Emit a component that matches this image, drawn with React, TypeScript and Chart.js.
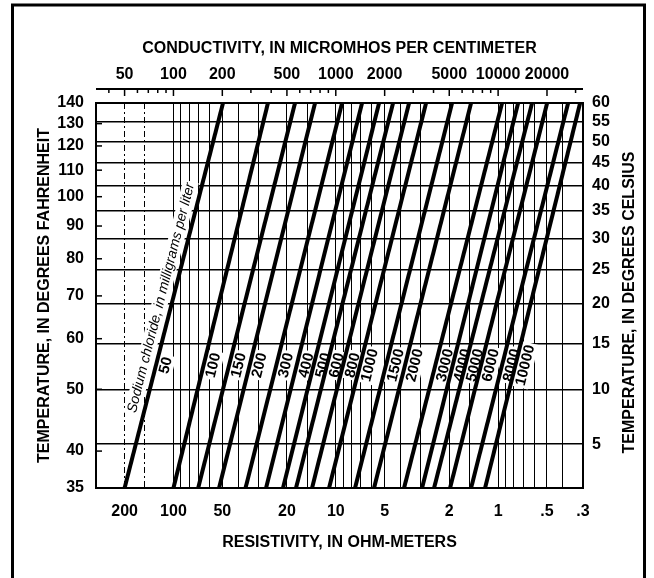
import { useEffect, useRef } from 'react';
import { Chart, registerables, LinearScale } from 'chart.js';

// Sodium chloride concentration of each line, milligrams per liter
const concentrations = [50, 100, 150, 200, 300, 400, 500, 600, 800, 1000, 1500, 2000, 3000, 4000, 5000, 6000, 8000, 10000];
// Conductivity (micromhos/cm) where each line meets 35 °F (bottom edge)
const conductivityAt35F = [50, 100, 142, 191, 278, 372, 473, 569, 714, 909, 1314, 1721, 2634, 3401, 4032, 5059, 6816, 8313];
// Conductivity (micromhos/cm) where each line meets 140 °F (top edge)
const conductivityAt140F = [202, 382, 561, 745, 1093, 1451, 1848, 2253, 2828, 3599, 5204, 6816, 10580, 13280, 16190, 20040, 26990, 32000];

const fahrenheitTicks = [35, 40, 50, 60, 70, 80, 90, 100, 110, 120, 130, 140];
const celsiusTicks = [5, 10, 15, 20, 25, 30, 35, 40, 45, 50, 55, 60];
const conductivityLabels = [50, 100, 200, 500, 1000, 2000, 5000, 10000, 20000];
const conductivityTickMarks = [40, 50, 60, 70, 80, 90, 100, 200, 300, 400, 500, 600, 700, 800, 900, 1000, 2000, 3000, 4000, 5000, 6000, 7000, 8000, 9000, 10000, 20000, 30000];
const resistivityLabels = [200, 100, 50, 20, 10, 5, 2, 1, 0.5, 0.3];
const resistivityGrid = [300, 200, 150, 100, 90, 80, 70, 60, 50, 40, 30, 20, 15, 10, 9, 8, 7, 6, 5, 4, 3, 2, 1.5, 1, 0.9, 0.8, 0.7, 0.6, 0.5, 0.4, 0.3];
const dashedResistivity = [200, 150];

const F_MIN = 35;
const F_MAX = 140;
const RES_MIN = 0.3;
const RES_MAX = 300;
const LABEL_TEMP_F = 54.5;
const CAPTION_TEMP_F = 69.5;
const WARP_OFFSET_C = 18; // temperature ruling of the chart: log(°C + 18)

const FONT = "'Liberation Sans', Arial, Helvetica, sans-serif";
const tickFont = { family: FONT, size: 16, weight: 'bold' as const };
const titleFont = { family: FONT, size: 16, weight: 'bold' as const };

class TemperatureScale extends LinearScale {
  static id = 'warpedTemperature';
  static defaults = {};
  warp(v: number) {
    const c = this.id === 'yF' ? (v - 32) / 1.8 : v;
    return Math.log10(c + WARP_OFFSET_C);
  }
  getPixelForValue(value: number) {
    const a = this.warp(this.min);
    const b = this.warp(this.max);
    return this.getPixelForDecimal((this.warp(value) - a) / (b - a));
  }
  getValueForPixel(pixel: number) {
    const a = this.warp(this.min);
    const b = this.warp(this.max);
    const w = a + this.getDecimalForPixel(pixel) * (b - a);
    const c = Math.pow(10, w) - WARP_OFFSET_C;
    return this.id === 'yF' ? c * 1.8 + 32 : c;
  }
}

Chart.register(...registerables, TemperatureScale);

const fmtRes = (v: number) => (v < 1 ? String(v).replace(/^0/, '') : String(v));

const decor = {
  id: 'decor',
  beforeDraw(chart: any) {
    const { ctx, width, height } = chart;
    ctx.save();
    ctx.fillStyle = '#fff';
    ctx.fillRect(0, 0, width, height);
    ctx.strokeStyle = '#000';
    ctx.lineWidth = 3;
    ctx.strokeRect(12.5, 5, 632, height + 20);
    ctx.restore();
  },
  beforeDatasetsDraw(chart: any) {
    const { ctx } = chart;
    const xs = chart.scales.xC;
    const ys = chart.scales.yF;
    ctx.save();
    concentrations.forEach((c, i) => {
      const x0 = xs.getPixelForValue(conductivityAt35F[i]);
      const y0 = ys.getPixelForValue(F_MIN);
      const x1 = xs.getPixelForValue(conductivityAt140F[i]);
      const y1 = ys.getPixelForValue(F_MAX);
      const ang = Math.atan2(y1 - y0, x1 - x0);
      const drawAt = (tempF: number, dx: number, text: string, font: string) => {
        const yl = ys.getPixelForValue(tempF);
        const t = (yl - y0) / (y1 - y0);
        const xl = x0 + t * (x1 - x0) + dx;
        ctx.save();
        ctx.translate(xl, yl);
        ctx.rotate(ang);
        ctx.font = font;
        const w = ctx.measureText(text).width;
        ctx.fillStyle = '#fff';
        ctx.fillRect(-w / 2 - 2, -8, w + 4, 16);
        ctx.fillStyle = '#000';
        ctx.textAlign = 'center';
        ctx.textBaseline = 'middle';
        ctx.fillText(text, 0, 0);
        ctx.restore();
      };
      drawAt(LABEL_TEMP_F, 10, String(c), `bold 15px ${FONT}`);
      if (i === 0) {
        drawAt(CAPTION_TEMP_F, -12, 'Sodium chloride, in milligrams per liter', `italic 14px ${FONT}`);
      }
    });
    ctx.restore();
  },
  afterDraw(chart: any) {
    const { ctx, chartArea } = chart;
    const xs = chart.scales.xC;
    const ys = chart.scales.yF;
    ctx.save();
    ctx.strokeStyle = '#000';
    // conductivity axis line above the plot with hanging ticks
    const axisY = chartArea.top - 14;
    ctx.lineWidth = 2;
    ctx.beginPath();
    ctx.moveTo(chartArea.left, axisY);
    ctx.lineTo(chartArea.right, axisY);
    ctx.stroke();
    ctx.lineWidth = 1.5;
    xs.ticks.forEach((t: any) => {
      const x = xs.getPixelForValue(t.value);
      const len = conductivityLabels.includes(t.value) ? 7 : 4;
      ctx.beginPath();
      ctx.moveTo(x, axisY);
      ctx.lineTo(x, axisY + len);
      ctx.stroke();
    });
    // Fahrenheit tick marks inside the left border
    ys.ticks.forEach((t: any) => {
      const y = ys.getPixelForValue(t.value);
      ctx.beginPath();
      ctx.moveTo(chartArea.left, y);
      ctx.lineTo(chartArea.left + 6, y);
      ctx.stroke();
    });
    // right axis title, reading bottom to top
    ctx.translate(630, (chartArea.top + chartArea.bottom) / 2 + 7);
    ctx.rotate(-Math.PI / 2);
    ctx.font = `bold 16px ${FONT}`;
    ctx.fillStyle = '#000';
    ctx.textAlign = 'center';
    ctx.textBaseline = 'middle';
    ctx.fillText('TEMPERATURE, IN DEGREES CELSIUS', 0, 0);
    ctx.restore();
  },
};

export default function App() {
  const ref = useRef<HTMLCanvasElement>(null);
  useEffect(() => {
    const datasets = concentrations.map((c, i) => ({
      label: `${c} mg/L`,
      data: [
        { x: conductivityAt35F[i], y: F_MIN },
        { x: conductivityAt140F[i], y: F_MAX },
      ],
      showLine: true,
      borderColor: '#000',
      borderWidth: 4,
      pointRadius: 0,
      xAxisID: 'xC',
      yAxisID: 'yF',
    }));
    const chart = new Chart(ref.current as HTMLCanvasElement, {
      type: 'scatter',
      data: { datasets },
      plugins: [decor],
      options: {
        animation: false,
        responsive: false,
        devicePixelRatio: 1,
        layout: { padding: 0 },
        plugins: { legend: { display: false }, tooltip: { enabled: false } },
        scales: {
          xC: {
            type: 'logarithmic',
            position: 'top',
            min: 10000 / RES_MAX,
            max: 10000 / RES_MIN,
            afterBuildTicks: (s: any) => {
              s.ticks = conductivityTickMarks.map((v) => ({ value: v }));
            },
            afterFit: (s: any) => {
              s.height = 103;
            },
            grid: { display: false, drawTicks: false },
            border: { display: true, color: '#000', width: 2 },
            ticks: {
              autoSkip: false,
              maxRotation: 0,
              color: '#000',
              font: tickFont,
              padding: 19,
              callback: (v: any) => (conductivityLabels.includes(v) ? String(v) : ''),
            },
            title: {
              display: true,
              text: 'CONDUCTIVITY, IN MICROMHOS PER CENTIMETER',
              color: '#000',
              font: titleFont,
              padding: { top: 39, bottom: 0 },
            },
          },
          xR: {
            type: 'logarithmic',
            position: 'bottom',
            reverse: true,
            min: RES_MIN,
            max: RES_MAX,
            afterBuildTicks: (s: any) => {
              s.ticks = resistivityGrid.map((v) => ({ value: v }));
            },
            afterFit: (s: any) => {
              s.height = 90;
            },
            grid: { display: true, drawOnChartArea: true, drawTicks: false, color: '#000', lineWidth: 1 },
            border: {
              display: true,
              color: '#000',
              width: 2,
              dash: (ctx: any) => (ctx.tick && dashedResistivity.includes(ctx.tick.value) ? [6, 3, 2, 3] : []),
            },
            ticks: {
              autoSkip: false,
              maxRotation: 0,
              color: '#000',
              font: tickFont,
              padding: 14,
              callback: (v: any) => (resistivityLabels.includes(v) ? fmtRes(v) : ''),
            },
            title: {
              display: true,
              text: 'RESISTIVITY, IN OHM-METERS',
              color: '#000',
              font: titleFont,
              padding: { top: 0, bottom: 26 },
            },
          },
          yF: {
            type: 'warpedTemperature',
            position: 'left',
            min: F_MIN,
            max: F_MAX,
            afterBuildTicks: (s: any) => {
              s.ticks = fahrenheitTicks.map((v) => ({ value: v }));
            },
            afterFit: (s: any) => {
              s.width = 96;
            },
            grid: { display: false, drawTicks: false },
            border: { display: true, color: '#000', width: 2 },
            ticks: { autoSkip: false, color: '#000', font: tickFont, padding: 12, callback: (v: any) => String(v) },
            title: {
              display: true,
              text: 'TEMPERATURE, IN DEGREES FAHRENHEIT',
              color: '#000',
              font: titleFont,
              padding: { top: 35, bottom: 0 },
            },
          },
          yC: {
            type: 'warpedTemperature',
            position: 'right',
            min: (F_MIN - 32) / 1.8,
            max: (F_MAX - 32) / 1.8,
            afterBuildTicks: (s: any) => {
              s.ticks = celsiusTicks.map((v) => ({ value: v }));
            },
            afterFit: (s: any) => {
              s.width = 71;
            },
            grid: { display: true, drawOnChartArea: true, drawTicks: false, color: '#000', lineWidth: 1.5 },
            border: { display: true, color: '#000', width: 2 },
            ticks: { autoSkip: false, color: '#000', font: tickFont, padding: 9, callback: (v: any) => String(v) },
          },
        },
      } as any,
    });
    return () => chart.destroy();
  }, []);
  return (
    <div style={{ position: 'fixed', left: 0, top: 0, width: 654, height: 578, background: '#fff' }}>
      <canvas ref={ref} width={654} height={578} style={{ display: 'block', width: 654, height: 578 }} />
    </div>
  );
}
